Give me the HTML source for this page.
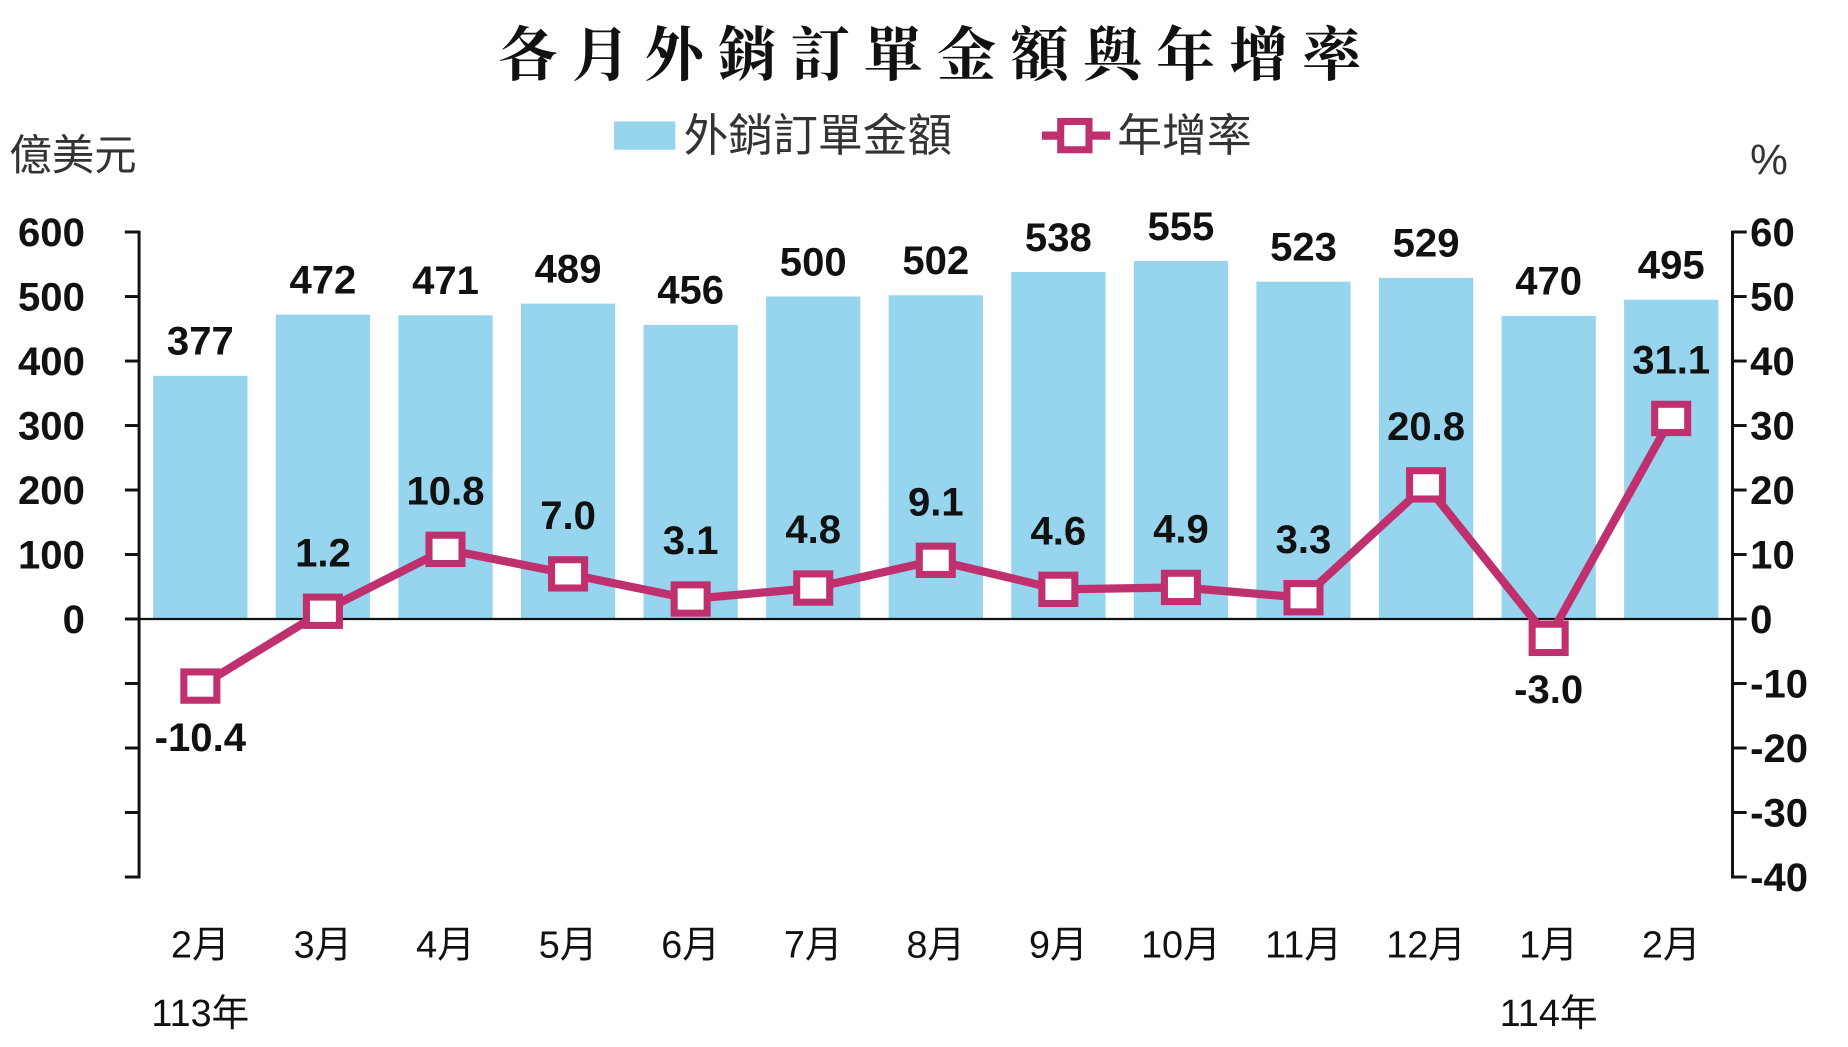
<!DOCTYPE html>
<html><head><meta charset="utf-8">
<style>
html,body{margin:0;padding:0;background:#fff;}
svg{display:block;}
</style></head>
<body>
<svg id="chart" width="1848" height="1047" viewBox="0 0 1568 888" preserveAspectRatio="none" xmlns="http://www.w3.org/2000/svg">
<rect width="1568" height="888" fill="#fff"/>
<text x="795" y="64" text-anchor="middle" font-family="'Noto Serif CJK TC','Noto Serif CJK SC',serif" font-weight="bold" font-size="50" letter-spacing="12" fill="#111">各月外銷訂單金額與年增率</text>
<g>
<rect x="521" y="103" width="52" height="24" fill="#97d4ee"/>
<text x="580" y="128" font-family="'Liberation Sans','Noto Sans CJK TC',sans-serif" font-size="38" fill="#333">外銷訂單金額</text>
<line x1="884" y1="115" x2="942" y2="115" stroke="#c0306e" stroke-width="7"/>
<rect x="900" y="103" width="24" height="24" fill="#fff" stroke="#c0306e" stroke-width="6"/>
<text x="948" y="128" font-family="'Liberation Sans','Noto Sans CJK TC',sans-serif" font-size="38" fill="#333">年增率</text>
</g>
<text x="8" y="144" font-family="'Liberation Sans','Noto Sans CJK TC',sans-serif" font-size="36" fill="#333">億美元</text>
<text x="1485" y="148" font-family="'Liberation Sans',sans-serif" font-size="36" fill="#333">%</text>
<g id="plot"></g>
</svg>
<script>
const categories = ["2月","3月","4月","5月","6月","7月","8月","9月","10月","11月","12月","1月","2月"];
const orderValues = [377,472,471,489,456,500,502,538,555,523,529,470,495];
const rateValues = [-10.4,1.2,10.8,7.0,3.1,4.8,9.1,4.6,4.9,3.3,20.8,-3.0,31.1];
const leftTicks = [600,500,400,300,200,100,0,-100,-200,-300,-400];
const leftTickLabels = ["600","500","400","300","200","100","0","","","",""];
const rightTicks = [60,50,40,30,20,10,0,-10,-20,-30,-40];
const yearLabels = [{i:0,t:"113年"},{i:11,t:"114年"}];

const NS = "http://www.w3.org/2000/svg";
const g = document.getElementById("plot");
const X0 = 118, X1 = 1470, Y0 = 525, PER = 54.7;
const n = categories.length, band = (X1 - X0) / n;
const xc = i => X0 + band * (i + 0.5);
const yL = v => Y0 - v / 100 * PER;
const yR = v => Y0 - v / 10 * PER;
function el(tag, attrs, text){
  const e = document.createElementNS(NS, tag);
  for (const k in attrs) e.setAttribute(k, attrs[k]);
  if (text !== undefined) e.textContent = text;
  g.appendChild(e); return e;
}
const numFont = "'Liberation Sans',sans-serif";
const narrowFont = "'Liberation Sans Narrow','Liberation Sans',sans-serif";
const cjkFont = "'Liberation Sans','Noto Sans CJK TC',sans-serif";

orderValues.forEach((v, i) => {
  const b = el("rect", {x: xc(i) - 40, y: yL(v), width: 80, height: Y0 - yL(v), fill: "#97d4ee"});
  
  
  const t = el("text", {x: xc(i), y: yL(v) - 18, "text-anchor": "middle", "font-family": narrowFont, "font-weight": "bold", "font-size": "34", fill: "#111"}, String(v));
  
  
});

const la = el("path", {d: `M${X0-12},${yL(600)}H${X0}V${yL(-400)}H${X0-12}`, fill: "none", stroke: "#111", "stroke-width": 2.5});


leftTicks.forEach((v, i) => {
  el("line", {x1: X0 - 12, x2: X0, y1: yL(v), y2: yL(v), stroke: "#111", "stroke-width": 2.5});
  if (leftTickLabels[i]) {
    const t = el("text", {x: 72, y: yL(v) + 12, "text-anchor": "end", "font-family": numFont, "font-weight": "bold", "font-size": "34", fill: "#111"}, leftTickLabels[i]);
    
    
  }
});
const ra = el("path", {d: `M${X1+12},${yR(60)}H${X1}V${yR(-40)}H${X1+12}`, fill: "none", stroke: "#111", "stroke-width": 2.5});


rightTicks.forEach(v => {
  el("line", {x1: X1, x2: X1 + 12, y1: yR(v), y2: yR(v), stroke: "#111", "stroke-width": 2.5});
  const t = el("text", {x: 1485, y: yR(v) + 12, "font-family": numFont, "font-weight": "bold", "font-size": "34", fill: "#111"}, String(v));
  
  
});
const zl = el("line", {x1: X0, x2: X1, y1: Y0, y2: Y0, stroke: "#111", "stroke-width": 2});



categories.forEach((c, i) => {
  const t = el("text", {x: xc(i), y: 812, "text-anchor": "middle", "font-family": cjkFont, "font-size": "32", fill: "#111"}, c);
  
  
});
yearLabels.forEach(y => {
  const t = el("text", {x: xc(y.i), y: 870, "text-anchor": "middle", "font-family": cjkFont, "font-size": "32", fill: "#111"}, y.t);
  
  
});

const pts = rateValues.map((v, i) => xc(i) + "," + yR(v)).join(" ");
const pl = el("polyline", {points: pts, fill: "none", stroke: "#c0306e", "stroke-width": 7, "stroke-linejoin": "round"});


rateValues.forEach((v, i) => {
  const m = el("rect", {x: xc(i) - 14, y: yR(v) - 12, width: 28, height: 24, fill: "#fff", stroke: "#c0306e", "stroke-width": 6});
  
  
  const below = v < 0;
  const t = el("text", {x: xc(i), y: below ? yR(v) + 55 : yR(v) - 38, "text-anchor": "middle", "font-family": numFont, "font-weight": "bold", "font-size": "34", fill: "#111"}, v.toFixed(1));
  
  
});
</script>
</body></html>
